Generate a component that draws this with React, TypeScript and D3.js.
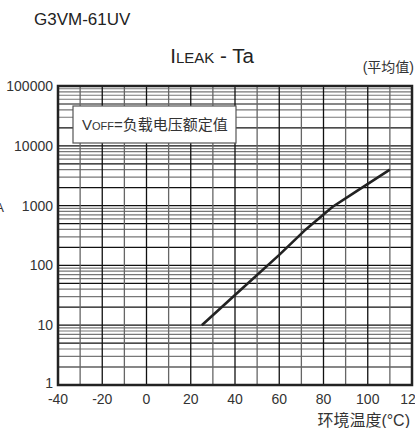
import React, { useEffect, useRef } from "react";
import * as d3 from "d3";

// readings from the curve (Ta in °C, ILEAK in pA)
const temps = [25, 40, 60, 72, 84, 95, 110];
const leak = [10, 32, 150, 400, 950, 1750, 4000];
const xTicks = [-40, -20, 0, 20, 40, 60, 80, 100, 120];
const yTicks = [1, 10, 100, 1000, 10000, 100000];

const W = 415, H = 428;
const FONT = "'Liberation Sans', Arial, 'Noto Sans CJK SC', sans-serif";

export default function App() {
  const ref = useRef<SVGSVGElement>(null);

  useEffect(() => {
    const svg = d3.select(ref.current);
    svg.selectAll("*").remove();

    const left = 58, right = 412, top = 86, bottom = 385;
    const x = d3.scaleLinear().domain([-40, 120]).range([left, right]);
    const y = d3.scaleLog().domain([1, 100000]).range([bottom, top]);

    const g = svg.append("g");

    // horizontal log grid
    const minor: number[] = [];
    for (let dec = 1; dec < 100000; dec *= 10) {
      for (let k = 1; k <= 9; k++) minor.push(dec * k);
    }
    g.selectAll("line.h")
      .data(minor)
      .enter()
      .append("line")
      .attr("x1", left)
      .attr("x2", right)
      .attr("y1", (d) => y(d))
      .attr("y2", (d) => y(d))
      .attr("stroke", (d) => {
        const m = Math.round(d / Math.pow(10, Math.floor(Math.log10(d) + 1e-9)));
        return m === 1 || m === 2 || m === 5 ? "#111" : "#777";
      })
      .attr("stroke-width", 1.2);

    // vertical grid every 10 deg
    const vx = d3.range(-30, 120, 10);
    g.selectAll("line.v")
      .data(vx)
      .enter()
      .append("line")
      .attr("x1", (d) => x(d))
      .attr("x2", (d) => x(d))
      .attr("y1", top)
      .attr("y2", bottom)
      .attr("stroke", (d) => (d % 20 === 0 ? "#111" : "#666"))
      .attr("stroke-width", 1.3);

    // legend box
    g.append("rect")
      .attr("x", 73)
      .attr("y", 106)
      .attr("width", 163)
      .attr("height", 37)
      .attr("fill", "#fff")
      .attr("stroke", "#555")
      .attr("stroke-width", 1.2);
    const lt = g.append("text")
      .attr("x", 82)
      .attr("y", 130)
      .attr("font-family", FONT)
      .attr("font-size", 15)
      .attr("fill", "#333");
    lt.append("tspan").text("V");
    lt.append("tspan").attr("font-size", 11).text("OFF");
    lt.append("tspan").text("=负载电压额定值");

    // frame
    g.append("rect")
      .attr("x", left)
      .attr("y", top)
      .attr("width", right - left)
      .attr("height", bottom - top)
      .attr("fill", "none")
      .attr("stroke", "#222")
      .attr("stroke-width", 2.5);

    // curve
    const line = d3.line<number>()
      .x((d, i) => x(temps[i]))
      .y((d) => y(d));
    g.append("path")
      .datum(leak)
      .attr("d", line)
      .attr("fill", "none")
      .attr("stroke", "#222")
      .attr("stroke-width", 2.6);

    // tick labels
    g.selectAll("text.yt")
      .data(yTicks)
      .enter()
      .append("text")
      .attr("x", 53)
      .attr("y", (d) => y(d) + (d === 1 ? 3 : 5))
      .attr("text-anchor", "end")
      .attr("font-family", FONT)
      .attr("font-size", 14)
      .attr("fill", "#333")
      .text((d) => String(d));

    g.selectAll("text.xt")
      .data(xTicks)
      .enter()
      .append("text")
      .attr("x", (d) => x(d))
      .attr("y", 404)
      .attr("text-anchor", "middle")
      .attr("font-family", FONT)
      .attr("font-size", 14)
      .attr("fill", "#333")
      .text((d) => String(d));

    // cropped axis label fragment
    g.append("text")
      .attr("x", 4)
      .attr("y", 212)
      .attr("text-anchor", "end")
      .attr("font-family", FONT)
      .attr("font-size", 13)
      .attr("fill", "#333")
      .text("pA");

    g.append("text")
      .attr("x", 410)
      .attr("y", 426)
      .attr("text-anchor", "end")
      .attr("font-family", FONT)
      .attr("font-size", 16)
      .attr("fill", "#333")
      .text("环境温度(°C)");

    // titles
    g.append("text")
      .attr("x", 34)
      .attr("y", 25)
      .attr("font-family", FONT)
      .attr("font-size", 17)
      .attr("fill", "#222")
      .text("G3VM-61UV");

    const tt = g.append("text")
      .attr("x", 212)
      .attr("y", 63)
      .attr("text-anchor", "middle")
      .attr("font-family", FONT)
      .attr("font-size", 20.5)
      .attr("fill", "#222");
    tt.append("tspan").text("I");
    tt.append("tspan").attr("font-size", 15).text("LEAK");
    tt.append("tspan").text(" - Ta");

    g.append("text")
      .attr("x", 414)
      .attr("y", 72)
      .attr("text-anchor", "end")
      .attr("font-family", FONT)
      .attr("font-size", 14)
      .attr("fill", "#333")
      .text("(平均值)");
  }, []);

  return (
    <svg
      ref={ref}
      width={W}
      height={H}
      style={{ position: "absolute", left: 0, top: 0, background: "#fff" }}
    />
  );
}
